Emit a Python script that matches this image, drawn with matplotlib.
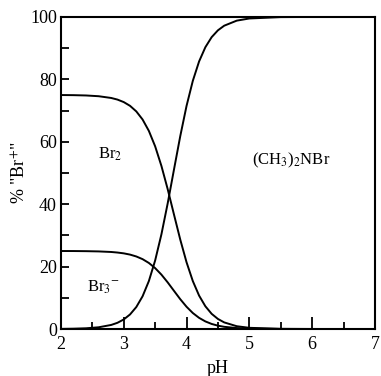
import matplotlib
matplotlib.use("Agg")
import matplotlib.pyplot as plt
from matplotlib.ticker import MultipleLocator

plt.rcParams['font.family'] = ['Liberation Serif', 'DejaVu Serif']
plt.rcParams['mathtext.fontset'] = 'stix'

ph = [2.0, 2.2, 2.4, 2.6, 2.8, 2.9, 3.0, 3.1, 3.2, 3.3, 3.4, 3.5, 3.6, 3.7, 3.8,
      3.9, 4.0, 4.1, 4.2, 4.3, 4.4, 4.5, 4.6, 4.8, 5.0, 5.5, 6.0, 6.5, 7.0]
br2 = [74.97, 74.93, 74.83, 74.59, 74.03, 73.51, 72.71, 71.51, 69.72, 67.13, 63.48,
       58.54, 52.25, 44.80, 36.68, 28.65, 21.39, 15.36, 10.70, 7.28, 4.86, 3.22,
       2.11, 0.89, 0.38, 0.05, 0.01, 0.0, 0.0]
br3 = [24.99, 24.98, 24.94, 24.86, 24.68, 24.50, 24.24, 23.84, 23.24, 22.38, 21.16,
       19.51, 17.42, 14.93, 12.23, 9.55, 7.13, 5.12, 3.57, 2.43, 1.62, 1.07,
       0.70, 0.30, 0.13, 0.02, 0.0, 0.0, 0.0]
nbr = [0.04, 0.10, 0.23, 0.55, 1.30, 1.99, 3.06, 4.66, 7.04, 10.49, 15.36, 21.95,
       30.34, 40.27, 51.09, 61.80, 71.48, 79.52, 85.74, 90.30, 93.52, 95.71,
       97.19, 98.81, 99.50, 99.94, 99.99, 100.0, 100.0]

fig = plt.figure(figsize=(3.81, 3.76), dpi=100)
ax = fig.add_axes([0.160, 0.125, 0.824, 0.830])

for ys in (br2, br3, nbr):
    ax.plot(ph, ys, color='black', lw=1.4)

ax.set_xlim(2, 7)
ax.set_ylim(0, 100)
ax.xaxis.set_major_locator(MultipleLocator(1))
ax.xaxis.set_minor_locator(MultipleLocator(0.5))
ax.yaxis.set_major_locator(MultipleLocator(20))
ax.yaxis.set_minor_locator(MultipleLocator(10))
ax.tick_params(axis='both', which='both', direction='in', top=False, right=False,
               width=1.3, labelsize=13, colors='black')
ax.tick_params(axis='x', which='major', length=9, pad=5)
ax.tick_params(axis='x', which='minor', length=5)
ax.tick_params(axis='y', which='major', length=6, pad=3)
ax.tick_params(axis='y', which='minor', length=6)
for s in ax.spines.values():
    s.set_linewidth(1.5)

ax.set_xlabel('pH', fontsize=13, labelpad=5)
ax.set_ylabel('% "Br$^{+}$"', fontsize=13, labelpad=0)

ax.text(2.78, 56, 'Br$_2$', fontsize=12, ha='center', va='center')
ax.text(2.68, 13.5, 'Br$_3$$^{-}$', fontsize=12, ha='center', va='center')
ax.text(5.66, 54, '(CH$_3$)$_2$NBr', fontsize=12, ha='center', va='center')

fig.savefig('out.png', dpi=100)
